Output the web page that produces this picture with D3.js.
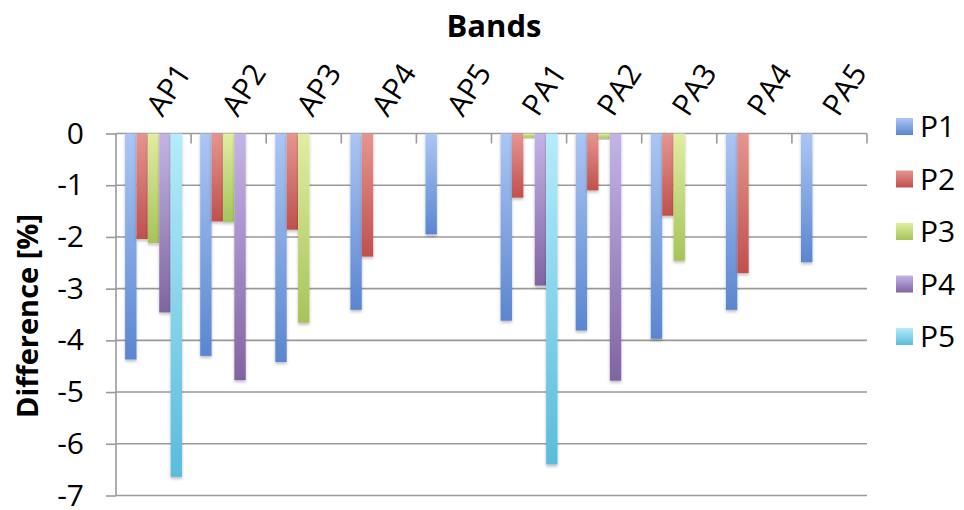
<!DOCTYPE html>
<html><head><meta charset="utf-8">
<script src="https://cdn.jsdelivr.net/npm/d3@7"></script>
<style>body{margin:0;background:#fff}svg{display:block}text{font-family:"Open Sans",sans-serif}</style>
</head><body><svg id="c" width="964" height="510"></svg>
<script>
const categories = ["AP1","AP2","AP3","AP4","AP5","PA1","PA2","PA3","PA4","PA5"];
const seriesNames = ["P1","P2","P3","P4","P5"];
const P1 = [-4.37,-4.30,-4.42,-3.41,-1.95,-3.62,-3.81,-3.97,-3.41,-2.49];
const P2 = [-2.04,-1.70,-1.86,-2.38,null,-1.24,-1.10,-1.59,-2.70,null];
const P3 = [-2.12,-1.71,-3.66,null,null,-0.08,-0.10,-2.46,null,null];
const P4 = [-3.46,-4.77,null,null,null,-2.94,-4.78,null,null,null];
const P5 = [-6.64,null,null,null,null,-6.40,null,null,null,null];
const yTicks = [0,-1,-2,-3,-4,-5,-6,-7];
const topColors = ["#abc6f4","#e6958f","#e0eea0","#c4b4e6","#b4ecfa"];
const botColors = ["#5a86d0","#c0504d","#a6c45a","#8064a2","#5abcdc"];

const seriesVals = [P1,P2,P3,P4,P5];
const svg = d3.select("#c");
const x0 = d3.scaleBand().domain(categories).range([116,867]);
const x1 = d3.scaleBand().domain(seriesNames).range([0,x0.bandwidth()]).paddingOuter(0.8);
const y = d3.scaleLinear().domain([-7,0]).range([495.5,133.5]);

const defs = svg.append("defs");
seriesNames.forEach((s,i)=>{
  const g = defs.append("linearGradient").attr("id","g"+i).attr("x1",0).attr("y1",0).attr("x2",0).attr("y2",1);
  g.append("stop").attr("offset","0%").attr("stop-color",topColors[i]);
  g.append("stop").attr("offset","100%").attr("stop-color",botColors[i]);
});
const f = defs.append("filter").attr("id","sh").attr("x","-30%").attr("y","-10%").attr("width","160%").attr("height","130%");
f.append("feDropShadow").attr("dx",0).attr("dy",2).attr("stdDeviation",1.5).attr("flood-color","#000").attr("flood-opacity",0.25);

// gridlines
svg.append("g").selectAll("line").data(yTicks.filter(d=>d!==0)).join("line")
  .attr("x1",116).attr("x2",867).attr("y1",d=>y(d)).attr("y2",d=>y(d))
  .attr("stroke","#9a9a9a").attr("stroke-width",1.6);

// left axis
const ya = svg.append("g").attr("transform","translate(116,0)")
  .call(d3.axisLeft(y).tickValues(yTicks).tickSize(10).tickPadding(22).tickFormat(d=>d===0?"0":"-"+Math.abs(d)));
ya.select(".domain").attr("stroke","#9a9a9a").attr("stroke-width",1.6).attr("d","M0,"+y(0)+"V"+y(-7));
ya.selectAll(".tick line").attr("stroke","#9a9a9a").attr("stroke-width",1.6);
ya.selectAll(".tick text").attr("font-size",30).attr("fill","#000").attr("font-family","Open Sans");

// top axis (category) with ticks pointing down
const xa = svg.append("g").attr("transform","translate(0,"+y(0)+")");
xa.append("line").attr("x1",116).attr("x2",867).attr("stroke","#9a9a9a").attr("stroke-width",1.6);
const bounds = categories.map(c=>x0(c)).concat([x0.range()[1]]);
xa.selectAll("line.t").data(bounds.slice(1)).join("line").attr("class","t")
  .attr("x1",d=>d).attr("x2",d=>d).attr("y1",0).attr("y2",10).attr("stroke","#9a9a9a").attr("stroke-width",1.6);

// bars
const groups = svg.append("g").selectAll("g").data(categories).join("g")
  .attr("transform",c=>"translate("+x0(c)+",0)");
groups.selectAll("rect").data((c,ci)=>seriesNames.map((s,si)=>({s,si,v:seriesVals[si][ci]})).filter(d=>d.v!=null))
  .join("rect")
  .attr("x",d=>x1(d.s)).attr("width",x1.bandwidth())
  .attr("y",y(0)).attr("height",d=>y(d.v)-y(0))
  .attr("fill",d=>"url(#g"+d.si+")").attr("filter","url(#sh)");

// category labels
svg.append("g").selectAll("text").data(categories).join("text")
  .attr("transform",c=>"translate("+(x0(c)+x0.bandwidth()/2+9)+",118) rotate(-57)")
  .attr("font-size",30).attr("text-anchor","start").text(c=>c);

// title
svg.append("text").attr("x",494).attr("y",37).attr("text-anchor","middle")
  .attr("font-size",31).attr("font-weight","bold").text("Bands");
svg.append("text").attr("transform","translate(38,316) rotate(-90)").attr("text-anchor","middle")
  .attr("font-size",29).attr("font-weight","bold").text("Difference [%]");

// legend
const lg = svg.append("g").selectAll("g").data(seriesNames).join("g")
  .attr("transform",(d,i)=>"translate(896,"+(118+i*52.5)+")");
lg.append("rect").attr("width",17).attr("height",17).attr("fill",(d,i)=>"url(#g"+i+")");
lg.append("text").attr("x",24).attr("y",19).attr("font-size",30).text(d=>d);
</script></body></html>
